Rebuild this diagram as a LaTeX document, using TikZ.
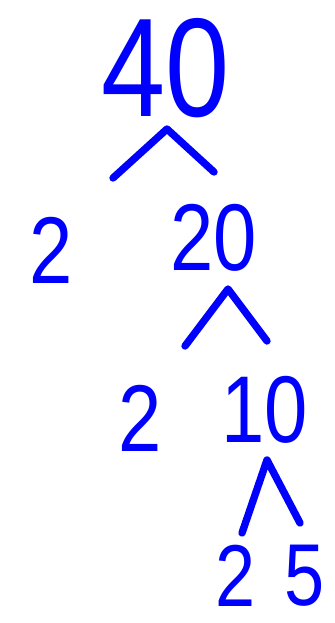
\documentclass[tikz,border=0pt]{standalone}
\usepackage{fontspec}
\setmainfont[FakeStretch=0.82]{Liberation Sans}
\definecolor{Pen}{HTML}{0000FF}
\tikzset{
  num/.style={text=Pen, inner sep=0pt, font=\fontsize{54}{60}\selectfont},
  bignum/.style={num, font=\fontsize{80}{90}\selectfont},
  lownum/.style={num, font=\fontsize{50}{56}\selectfont},
  branch/.style={draw=Pen, line width=4.2pt, line cap=round, line join=round}
}
\begin{document}
\begin{tikzpicture}[x=0.02cm,y=-0.02cm]
    \useasboundingbox (0,0) rectangle (335,623);
    % numbers
    \node[bignum] (n40) at (166,68) {40};
    \node[num] (n2a) at (51,250) {2};
    \node[num] (n20) at (214,238) {20};
    \node[num] (n2b) at (140,418) {2};
    \node[num] (n10) at (265,410) {10};
    \node[lownum] (n2c) at (236,576) {2};
    \node[lownum] (n5) at (305,576) {5};
    % carets
    \coordinate (c1l) at (113,178);
    \coordinate (c1t) at (167,129);
    \coordinate (c1r) at (214,172);
    \coordinate (c2l) at (185,346);
    \coordinate (c2t) at (228,289);
    \coordinate (c2r) at (267,341);
    \coordinate (c3l) at (242,533);
    \coordinate (c3t) at (267,460);
    \coordinate (c3r) at (300,523);
    \draw[branch] (c1l) -- (c1t) -- (c1r);
    \draw[branch] (c2l) -- (c2t) -- (c2r);
    \draw[branch] (c3l) -- (c3t) -- (c3r);
\end{tikzpicture}
\end{document}
